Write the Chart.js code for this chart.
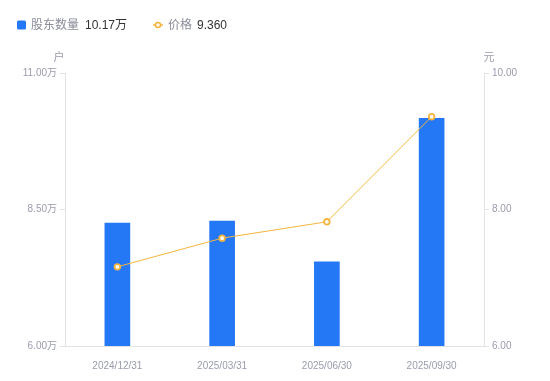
<!DOCTYPE html>
<html>
<head>
<meta charset="utf-8">
<script src="https://cdn.jsdelivr.net/npm/chart.js@4"></script>
<style>
  html, body { margin: 0; padding: 0; background: #fff; }
  #wrap { width: 550px; height: 381px; position: relative; }
</style>
</head>
<body>
<div id="wrap"><canvas id="chart" width="550" height="381"></canvas></div>
<script>
const dates = ["2024/12/31", "2025/03/31", "2025/06/30", "2025/09/30"];
const holders = [8.25, 8.29, 7.54, 10.17]; // 万户
const prices = [7.16, 7.58, 7.82, 9.36]; // 元
const leftTicks = [6, 8.5, 11];
const rightTicks = [6, 8, 10];

const FONT = 'Arial, "Liberation Sans", "Noto Sans CJK SC", sans-serif';
const BLUE = "#2477f5";
const ORANGE = "#f7b43d";
const GRAY = "#9a9cad";
const LINE = "#e3e3e6";

// 图例和单位文字
const extras = {
  id: "extras",
  afterDraw(c) {
    const ctx = c.ctx;
    const ly = 25;
    ctx.save();
    ctx.font = "12px " + FONT;
    ctx.textBaseline = "middle";
    // 股东数量
    ctx.fillStyle = BLUE;
    ctx.beginPath();
    ctx.roundRect(17, ly - 4.5, 9, 9, 1.5);
    ctx.fill();
    ctx.fillStyle = "#8a8c99";
    ctx.fillText("股东数量", 31, ly + 1);
    ctx.fillStyle = "#333";
    ctx.fillText(holders[holders.length - 1].toFixed(2) + "万", 85, ly + 1);
    // 价格
    ctx.strokeStyle = ORANGE;
    ctx.lineWidth = 1.5;
    ctx.beginPath();
    ctx.moveTo(153, ly);
    ctx.lineTo(163, ly);
    ctx.stroke();
    ctx.fillStyle = "#fff";
    ctx.beginPath();
    ctx.arc(158, ly, 2.5, 0, Math.PI * 2);
    ctx.fill();
    ctx.stroke();
    ctx.fillStyle = "#8a8c99";
    ctx.fillText("价格", 168, ly + 1);
    ctx.fillStyle = "#333";
    ctx.fillText(prices[prices.length - 1].toFixed(3), 197, ly + 1);
    // 单位
    ctx.fillStyle = GRAY;
    ctx.font = "11px " + FONT;
    ctx.textAlign = "center";
    ctx.fillText("户", c.scales.y.right - 6, 58);
    ctx.fillText("元", c.scales.y1.left + 5, 58);
    ctx.restore();
  },
};

new Chart(document.getElementById("chart"), {
  data: {
    labels: dates,
    datasets: [
      {
        type: "line",
        label: "价格",
        data: prices,
        yAxisID: "y1",
        borderColor: ORANGE,
        borderWidth: 1,
        pointRadius: 2.8,
        pointBorderWidth: 1.8,
        pointBackgroundColor: "#fff",
        pointBorderColor: ORANGE,
        tension: 0,
        order: 0,
      },
      {
        type: "bar",
        label: "股东数量",
        data: holders,
        yAxisID: "y",
        backgroundColor: BLUE,
        barThickness: 25,
        order: 1,
      },
    ],
  },
  options: {
    responsive: false,
    animation: false,
    layout: { padding: { top: 73, left: 0, right: 0, bottom: 0 } },
    plugins: { legend: { display: false }, tooltip: { enabled: false } },
    scales: {
      x: {
        grid: { display: false },
        border: { color: LINE },
        ticks: { color: GRAY, font: { size: 10, family: FONT }, padding: 6 },
        afterFit: (s) => { s.height = 35; },
      },
      y: {
        position: "left",
        min: 6,
        max: 11,
        afterBuildTicks: (s) => { s.ticks = leftTicks.map((v) => ({ value: v })); },
        afterFit: (s) => { s.width = 65; },
        grid: { drawOnChartArea: false, tickLength: 5, color: LINE },
        border: { color: LINE },
        ticks: {
          color: GRAY,
          font: { size: 10, family: FONT },
          padding: 3,
          callback: (v) => v.toFixed(2) + "万",
        },
      },
      y1: {
        position: "right",
        min: 6,
        max: 10,
        afterBuildTicks: (s) => { s.ticks = rightTicks.map((v) => ({ value: v })); },
        afterFit: (s) => { s.width = 66; },
        grid: { drawOnChartArea: false, tickLength: 5, color: LINE },
        border: { color: LINE },
        ticks: {
          color: GRAY,
          font: { size: 10, family: FONT },
          padding: 3,
          callback: (v) => v.toFixed(2),
        },
      },
    },
  },
  plugins: [extras],
});
</script>
</body>
</html>
